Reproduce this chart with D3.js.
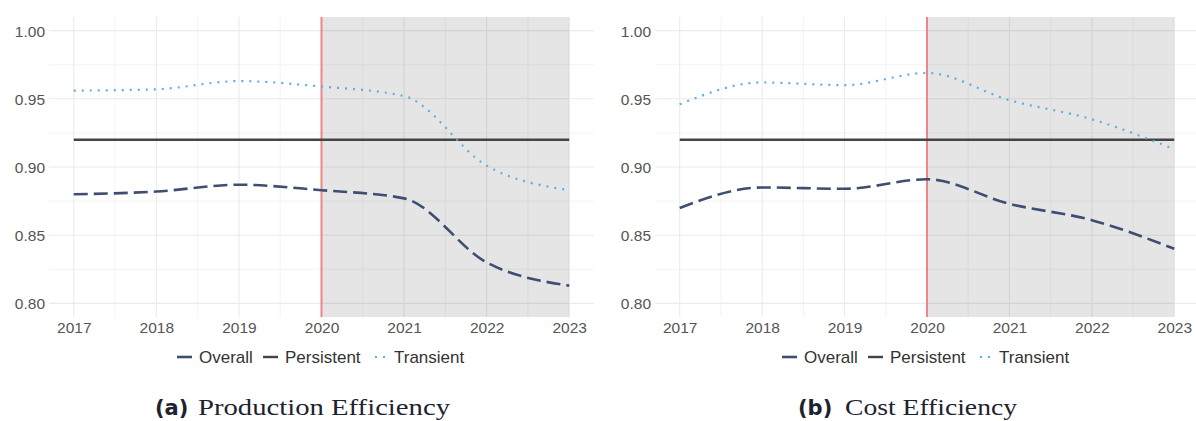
<!DOCTYPE html>
<html>
<head>
<meta charset="utf-8">
<script src="https://cdn.jsdelivr.net/npm/d3@7"></script>
<style>
  body { margin: 0; background: #fff; }
  svg { display: block; }
</style>
</head>
<body>
<div id="chart"></div>
<script>
// data
var years = [2017, 2018, 2019, 2020, 2021, 2022, 2023];
var yTicks = [0.80, 0.85, 0.90, 0.95, 1.00];
var seriesNames = ["Overall", "Persistent", "Transient"];

var prodOverall    = [0.880, 0.882, 0.887, 0.883, 0.877, 0.830, 0.813];
var prodPersistent = [0.920, 0.920, 0.920, 0.920, 0.920, 0.920, 0.920];
var prodTransient  = [0.956, 0.957, 0.963, 0.959, 0.952, 0.901, 0.883];

var costOverall    = [0.870, 0.885, 0.884, 0.891, 0.873, 0.861, 0.840];
var costPersistent = [0.920, 0.920, 0.920, 0.920, 0.920, 0.920, 0.920];
var costTransient  = [0.946, 0.962, 0.960, 0.969, 0.949, 0.935, 0.913];

var shockYear = 2020;

var W = 1196, H = 421;
var svg = d3.select("#chart").append("svg")
    .attr("width", W)
    .attr("height", H);

// line styles per series
var styles = {
  Overall:    {color: "#3e4e70", width: 2.6, dash: "14,6"},
  Persistent: {color: "#444444", width: 2.4, dash: null},
  Transient:  {color: "#5ab0e4", width: 2.2, dash: "2,6"}
};

var panels = [
  {left: 49,  right: 594,  tag: "(a)", title: "Production Efficiency", tagX: 155, titleX: 198, titleW: 252,
   legendX: 177, series: [prodOverall, prodPersistent, prodTransient]},
  {left: 655, right: 1199, tag: "(b)", title: "Cost Efficiency", tagX: 798, titleX: 845, titleW: 172,
   legendX: 782, series: [costOverall, costPersistent, costTransient]}
];

var plotTop = 17, plotBottom = 317;

panels.forEach(function(p, pi) {
  var x = d3.scaleLinear().domain([2016.7, 2023.3]).range([p.left, p.right]);
  var y = d3.scaleLinear().domain([0.79, 1.01]).range([plotBottom, plotTop]);

  var clipId = "clip" + pi;
  svg.append("clipPath").attr("id", clipId)
    .append("rect").attr("x", p.left).attr("y", plotTop)
    .attr("width", Math.min(p.right, W) - p.left).attr("height", plotBottom - plotTop);

  var g = svg.append("g");

  // minor grid
  var minorX = d3.range(2016.5, 2023.5, 1).filter(function(d) { return d > 2016.7 && d < 2023.3; });
  var minorY = [0.825, 0.875, 0.925, 0.975];
  g.selectAll(".mx").data(minorX).enter().append("line")
    .attr("x1", function(d) { return x(d); }).attr("x2", function(d) { return x(d); })
    .attr("y1", plotTop).attr("y2", plotBottom)
    .attr("stroke", "#f0f0f0").attr("stroke-width", 0.8);
  g.selectAll(".my").data(minorY).enter().append("line")
    .attr("x1", p.left).attr("x2", p.right)
    .attr("y1", function(d) { return y(d); }).attr("y2", function(d) { return y(d); })
    .attr("stroke", "#f0f0f0").attr("stroke-width", 0.8);

  // major grid
  g.selectAll(".gx").data(years).enter().append("line")
    .attr("x1", function(d) { return x(d); }).attr("x2", function(d) { return x(d); })
    .attr("y1", plotTop).attr("y2", plotBottom)
    .attr("stroke", "#ebebeb").attr("stroke-width", 1.1);
  g.selectAll(".gy").data(yTicks).enter().append("line")
    .attr("x1", p.left).attr("x2", p.right)
    .attr("y1", function(d) { return y(d); }).attr("y2", function(d) { return y(d); })
    .attr("stroke", "#ebebeb").attr("stroke-width", 1.1);

  // shaded period
  g.append("rect")
    .attr("x", x(shockYear)).attr("y", plotTop)
    .attr("width", x(years[years.length - 1]) - x(shockYear))
    .attr("height", plotBottom - plotTop)
    .attr("fill", "#000").attr("fill-opacity", 0.1);

  // axes (theme_minimal: no lines, no ticks)
  var xAxis = svg.append("g")
    .attr("transform", "translate(0," + plotBottom + ")")
    .call(d3.axisBottom(x).tickValues(years).tickFormat(d3.format("d")).tickSize(0).tickPadding(5));
  var yAxis = svg.append("g")
    .attr("transform", "translate(" + (p.left - 4) + ",0)")
    .call(d3.axisLeft(y).tickValues(yTicks).tickFormat(d3.format(".2f")).tickSize(0).tickPadding(0));
  [xAxis, yAxis].forEach(function(a) {
    a.select(".domain").remove();
    a.selectAll("text")
      .attr("fill", "#555")
      .style("font-family", "Liberation Sans, Arial, sans-serif")
      .style("font-size", "15.5px");
  });
  yAxis.selectAll("text").attr("dy", "0.35em");

  // vertical marker
  g.append("line")
    .attr("x1", x(shockYear)).attr("x2", x(shockYear))
    .attr("y1", plotTop).attr("y2", plotBottom)
    .attr("stroke", "#f08585").attr("stroke-width", 2);

  // series lines
  var line = d3.line()
    .x(function(d, i) { return x(years[i]); })
    .y(function(d) { return y(d); })
    .curve(d3.curveMonotoneX);

  var lg = svg.append("g").attr("clip-path", "url(#" + clipId + ")");
  [1, 0, 2].forEach(function(si) {
    var st = styles[seriesNames[si]];
    lg.append("path")
      .datum(p.series[si])
      .attr("d", line)
      .attr("fill", "none")
      .attr("stroke", st.color)
      .attr("stroke-width", st.width)
      .attr("stroke-dasharray", st.dash)
      .attr("stroke-linecap", "butt");
  });

  // legend
  var legY = 357;
  var offsets = [0, 86, 195];
  var leg = svg.append("g").attr("transform", "translate(" + p.legendX + "," + legY + ")");
  seriesNames.forEach(function(name, i) {
    var st = styles[name];
    var it = leg.append("g").attr("transform", "translate(" + offsets[i] + ",0)");
    it.append("line")
      .attr("x1", 0).attr("x2", 15).attr("y1", 0).attr("y2", 0)
      .attr("stroke", st.color)
      .attr("stroke-width", st.width)
      .attr("stroke-dasharray", name === "Transient" ? "2,6" : null)
      .attr("stroke-dashoffset", name === "Transient" ? -3 : 0);
    it.append("text")
      .attr("x", 22).attr("y", 0).attr("dy", "0.35em")
      .attr("fill", "#333")
      .style("font-family", "Liberation Sans, Arial, sans-serif")
      .style("font-size", "17px")
      .text(name);
  });

  // caption
  svg.append("text")
    .attr("x", p.tagX).attr("y", 415)
    .attr("fill", "#1e2230")
    .style("font-family", "DejaVu Sans, sans-serif")
    .style("font-weight", "bold")
    .style("font-size", "21px")
    .text(p.tag);
  svg.append("text")
    .attr("x", p.titleX).attr("y", 415)
    .attr("fill", "#1e2230")
    .attr("textLength", p.titleW)
    .attr("lengthAdjust", "spacingAndGlyphs")
    .style("font-family", "Liberation Serif, serif")
    .style("font-size", "24px")
    .text(p.title);
});
</script>
</body>
</html>
